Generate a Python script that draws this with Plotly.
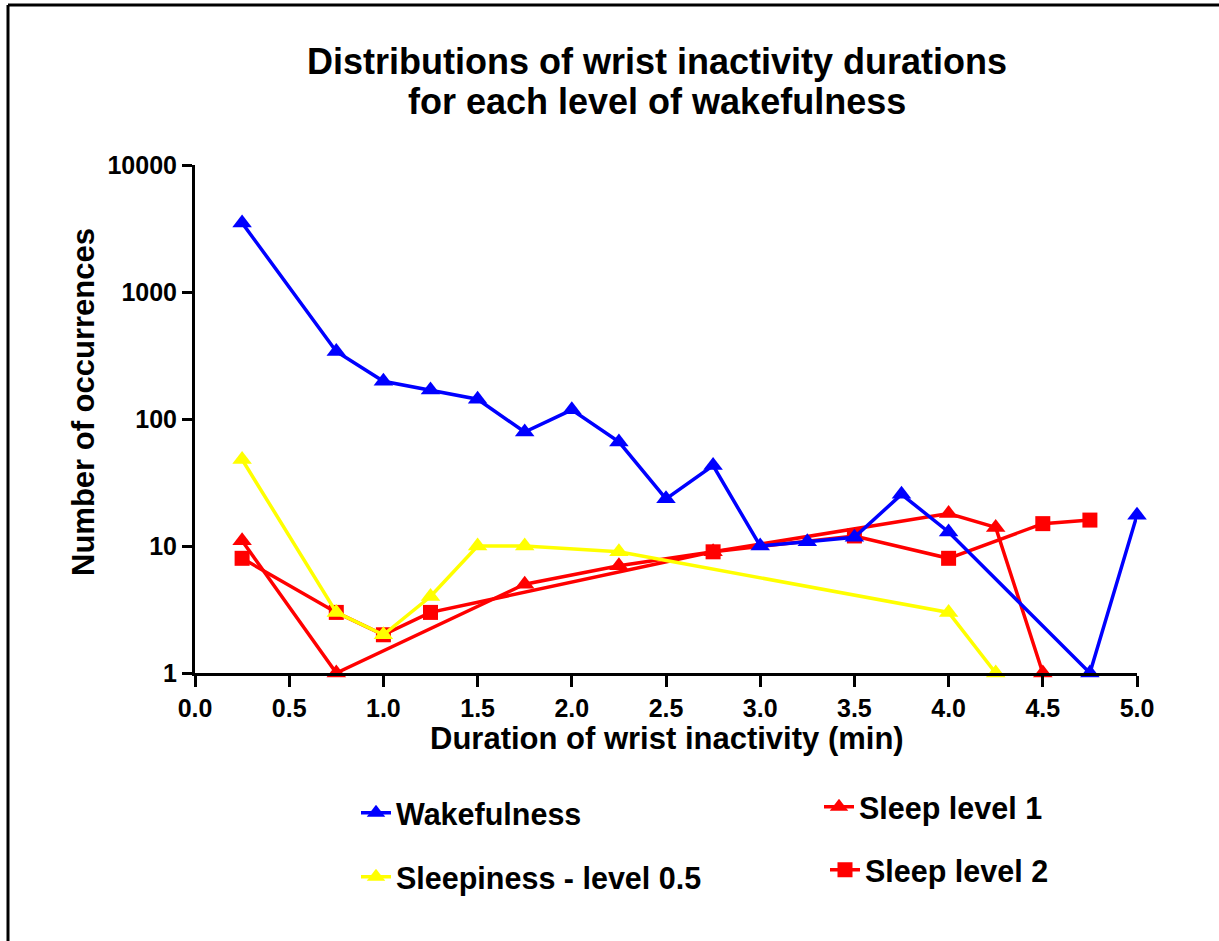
import plotly.graph_objects as go

# ---- data ----
wake_x = [0.25, 0.75, 1.0, 1.25, 1.5, 1.75, 2.0, 2.25, 2.5, 2.75, 3.0, 3.25, 3.5, 3.75, 4.0, 4.75, 5.0]
wake_y = [3500, 340, 198, 169, 143, 79, 118, 66, 23.5, 43, 10, 10.8, 11.7, 25.5, 12.9, 1, 17.5]

sleepy_x = [0.25, 0.75, 1.0, 1.25, 1.5, 1.75, 2.25, 4.0, 4.25]
sleepy_y = [48, 3, 2, 4, 10, 10, 9, 3, 1]

sleep1_x = [0.25, 0.75, 1.75, 2.25, 2.75, 4.0, 4.25, 4.5]
sleep1_y = [11, 1, 5, 7, 9, 18, 14, 1]

sleep2_x = [0.25, 0.75, 1.0, 1.25, 2.75, 3.5, 4.0, 4.5, 4.75]
sleep2_y = [8, 3, 2, 3, 9, 12, 8, 15, 16]

x_ticks = [0.0, 0.5, 1.0, 1.5, 2.0, 2.5, 3.0, 3.5, 4.0, 4.5, 5.0]
y_ticks = [1, 10, 100, 1000, 10000]

title_lines = ["Distributions of wrist inactivity durations", "for each level of wakefulness"]
x_title = "Duration of wrist inactivity (min)"
y_title = "Number of occurrences"

# ---- geometry (pixels) ----
W, H = 1219, 941
L, R, T, B = 195, 1137, 165, 673
PW, PH = R - L, B - T

def px(x):
    return (x - L) / PW

def py(y):
    return (B - y) / PH

FONT = "Liberation Sans, Arial, sans-serif"
BLUE, YELLOW, RED = "#0000FF", "#FFFF00", "#FF0000"
LW = 3.5

fig = go.Figure()

fig.add_trace(go.Scatter(x=sleep2_x, y=sleep2_y, mode="lines+markers", name="Sleep level 2",
                         line=dict(color=RED, width=LW), marker=dict(symbol="square", size=15, color=RED),
                         cliponaxis=False, legend="legend4"))
fig.add_trace(go.Scatter(x=sleep1_x, y=sleep1_y, mode="lines+markers", name="Sleep level 1",
                         line=dict(color=RED, width=LW), marker=dict(symbol="triangle-up", size=17, color=RED),
                         cliponaxis=False, legend="legend3"))
fig.add_trace(go.Scatter(x=sleepy_x, y=sleepy_y, mode="lines+markers", name="Sleepiness - level 0.5",
                         line=dict(color=YELLOW, width=LW), marker=dict(symbol="triangle-up", size=17, color=YELLOW),
                         cliponaxis=False, legend="legend2"))
fig.add_trace(go.Scatter(x=wake_x, y=wake_y, mode="lines+markers", name="Wakefulness",
                         line=dict(color=BLUE, width=LW), marker=dict(symbol="triangle-up", size=17, color=BLUE),
                         cliponaxis=False, legend="legend"))

legend_font = dict(family=FONT, size=30.5, color="black", weight="bold")

def leg(x_text, y_center):
    return dict(x=px(x_text - 40), y=py(y_center), xanchor="left", yanchor="middle",
                bgcolor="rgba(0,0,0,0)", borderwidth=0, font=legend_font)

fig.update_layout(
    width=W, height=H,
    margin=dict(l=L, r=W - R, t=T, b=H - B, pad=0),
    paper_bgcolor="white", plot_bgcolor="white",
    showlegend=True,
    legend=leg(396, 813),
    legend2=leg(396, 877),
    legend3=leg(859, 807),
    legend4=leg(865, 870),
    xaxis=dict(range=[0, 5], tickvals=x_ticks, ticktext=[f"{v:.1f}" for v in x_ticks],
               showgrid=False, zeroline=False, showline=True, linecolor="black", linewidth=3,
               ticks="outside", ticklen=11, tickwidth=3, tickcolor="black",
               tickfont=dict(family=FONT, size=25, color="black", weight="bold")),
    yaxis=dict(type="log", range=[0, 4], tickvals=y_ticks, ticktext=[str(v) for v in y_ticks],
               showgrid=False, zeroline=False, showline=True, linecolor="black", linewidth=3,
               ticks="outside", ticklen=10, tickwidth=3, tickcolor="black",
               tickfont=dict(family=FONT, size=25, color="black", weight="bold")),
    annotations=[
        dict(text=title_lines[0], x=px(657), y=py(62), xref="paper", yref="paper",
             xanchor="center", yanchor="middle", showarrow=False,
             font=dict(family=FONT, size=36, color="black", weight="bold")),
        dict(text=title_lines[1], x=px(657), y=py(101), xref="paper", yref="paper",
             xanchor="center", yanchor="middle", showarrow=False,
             font=dict(family=FONT, size=36, color="black", weight="bold")),
        dict(text=x_title, x=px(667), y=py(738), xref="paper", yref="paper",
             xanchor="center", yanchor="middle", showarrow=False,
             font=dict(family=FONT, size=31, color="black", weight="bold")),
        dict(text=y_title, x=px(83), y=py(402), xref="paper", yref="paper", textangle=-90,
             xanchor="center", yanchor="middle", showarrow=False,
             font=dict(family=FONT, size=31, color="black", weight="bold")),
    ],
    shapes=[
        dict(type="line", xref="paper", yref="paper", x0=px(8), x1=px(8), y0=py(5), y1=py(960),
             line=dict(color="black", width=3)),
        dict(type="line", xref="paper", yref="paper", x0=px(8), x1=px(1240), y0=py(5), y1=py(5),
             line=dict(color="black", width=3)),
    ],
)

fig.write_html("out.html")
